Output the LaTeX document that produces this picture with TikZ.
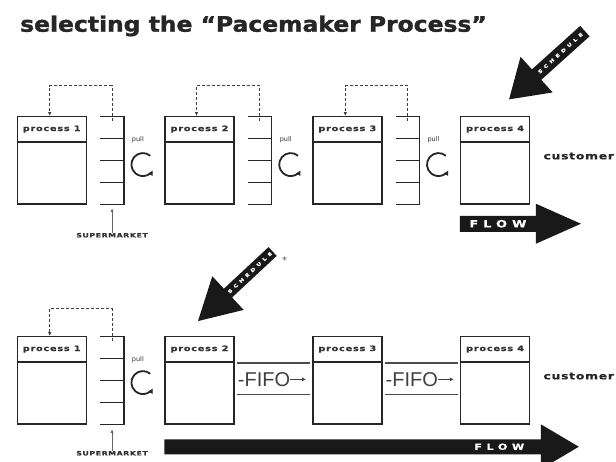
\documentclass[tikz,border=0pt]{standalone}
\usepackage{fontspec}
\setmainfont{DejaVu Sans}
\newfontfamily\widefont[FakeStretch=1.3, FakeBold=0.8]{DejaVu Sans Bold}
\newfontfamily\titlefont[FakeStretch=1.1, FakeBold=1.5]{DejaVu Sans Bold}
\newfontfamily\fifofont{Liberation Sans}
\usetikzlibrary{positioning,arrows.meta,calc}

\tikzset{
  procbox/.style={draw=black!85, line width=1.4pt, minimum width=69pt, minimum height=87.3pt, inner sep=0pt},
  market/.style={minimum width=23.3pt, minimum height=87.3pt, inner sep=0pt},
  rule/.style={line width=1.4pt, black!85},
  lane/.style={line width=1.6pt, black!70},
  boxtitle/.style={font=\widefont\fontsize{7.5}{8}\selectfont\addfontfeature{LetterSpace=10}, text=black!80, inner sep=0pt},
  tag/.style={font=\widefont\fontsize{6}{7}\selectfont\addfontfeature{LetterSpace=10}, text=black!80, inner sep=0pt},
  pulltext/.style={font=\fontsize{6.5}{7}\selectfont, text=black!80, inner sep=0pt},
  custom/.style={font=\widefont\fontsize{9.5}{11}\selectfont\addfontfeature{LetterSpace=8}, text=black!85, inner sep=0pt},
  fifo/.style={font=\fifofont\fontsize{20}{22}\selectfont, text=black!75, inner sep=0pt},
  flowtext/.style={font=\widefont\fontsize{10}{11}\selectfont\addfontfeature{LetterSpace=50}, text=white, inner sep=0pt},
  schedtext/.style={font=\widefont\fontsize{4.5}{5}\selectfont\addfontfeature{LetterSpace=75}, text=white, inner sep=0pt},
  bigarrow/.style={fill=black!90},
  kanban/.style={densely dashed, line width=0.8pt, black!75, -{Latex[length=4pt,width=3.5pt]}},
  smarrow/.style={line width=0.7pt, black!60, -{Latex[length=3.5pt,width=3pt]}},
  pullarrow/.style={line width=1.8pt, black!85, -{Latex[length=5pt,width=5.5pt]}},
  fifoarrow/.style={line width=1pt, black!75, -{Latex[length=4pt,width=4pt]}}
}

\begin{document}
\begin{tikzpicture}[x=1pt, y=-1pt]
    \useasboundingbox (0,0) rectangle (616,461);
    \node[font=\titlefont\fontsize{21.3}{24}\selectfont, text=black!85, inner sep=0pt, anchor=base west] (title) at (20,31.7) {selecting the “Pacemaker Process”};

    % top row: pull everywhere
    \node[procbox] (p1) at (51.7,160.4) {};
    \node[procbox, right=77.4pt of p1] (p2) {};
    \node[procbox, right=77.4pt of p2] (p3) {};
    \node[procbox, right=77.4pt of p3] (p4) {};
    \draw[rule] ([yshift=-26pt]p1.north west) -- ([yshift=-26pt]p1.north east);
    \draw[rule] ([yshift=-26pt]p2.north west) -- ([yshift=-26pt]p2.north east);
    \draw[rule] ([yshift=-26pt]p3.north west) -- ([yshift=-26pt]p3.north east);
    \draw[rule] ([yshift=-26pt]p4.north west) -- ([yshift=-26pt]p4.north east);
    \node[boxtitle] (p1t) at ([yshift=-13pt]p1.north) {process 1};
    \node[boxtitle] (p2t) at ([yshift=-13pt]p2.north) {process 2};
    \node[boxtitle] (p3t) at ([yshift=-13pt]p3.north) {process 3};
    \node[boxtitle] (p4t) at ([yshift=-13pt]p4.north) {process 4};

    \node[market, right=13.3pt of p1] (s1) {};
    \node[market, right=13.3pt of p2] (s2) {};
    \node[market, right=13.3pt of p3] (s3) {};
    \draw[rule] (s1.north west) -- (s1.north east) -- (s1.south east) -- (s1.south west);
    \draw[rule] (s2.north west) -- (s2.north east) -- (s2.south east) -- (s2.south west);
    \draw[rule] (s3.north west) -- (s3.north east) -- (s3.south east) -- (s3.south west);
    \foreach \t in {.25,.5,.75} {
        \draw[rule] ($(s1.north west)!\t!(s1.south west)$) -- ($(s1.north east)!\t!(s1.south east)$);
        \draw[rule] ($(s2.north west)!\t!(s2.south west)$) -- ($(s2.north east)!\t!(s2.south east)$);
        \draw[rule] ($(s3.north west)!\t!(s3.south west)$) -- ($(s3.north east)!\t!(s3.south east)$);
    }
    \draw[kanban] ([yshift=-4pt]s1.north) -- ++(0,-35) -| ([xshift=-2pt]p1.north);
    \draw[kanban] ([yshift=-4pt]s2.north) -- ++(0,-35) -| ([xshift=-3pt]p2.north);
    \draw[kanban] ([yshift=-4pt]s3.north) -- ++(0,-35) -| ([xshift=-2pt]p3.north);

    \node[pulltext] (u1) at ([xshift=14pt,yshift=-23pt]s1.north east) {pull};
    \node[pulltext] (u2) at ([xshift=14pt,yshift=-23pt]s2.north east) {pull};
    \node[pulltext] (u3) at ([xshift=14pt,yshift=-23pt]s3.north east) {pull};
    \coordinate (c1) at ([xshift=19pt,yshift=-48pt]s1.north east);
    \coordinate (c2) at ([xshift=19pt,yshift=-48pt]s2.north east);
    \coordinate (c3) at ([xshift=19pt,yshift=-48pt]s3.north east);
    \draw[pullarrow] ($(c1)+(-50:11.5)$) arc[start angle=-50, end angle=-330, radius=11.5];
    \draw[pullarrow] ($(c2)+(-50:11.5)$) arc[start angle=-50, end angle=-330, radius=11.5];
    \draw[pullarrow] ($(c3)+(-50:11.5)$) arc[start angle=-50, end angle=-330, radius=11.5];

    \node[tag] (sm1) at ([yshift=-31pt]s1.south) {SUPERMARKET};
    \draw[smarrow] (sm1.north) -- ([yshift=-4pt]s1.south);
    \node[custom, anchor=west] (cu1) at ([xshift=13pt,yshift=-40pt]p4.north east) {customer};

    \begin{scope}[shift={([xshift=14pt,yshift=16.7pt]p4.north)}, rotate=42]
        \fill[bigarrow] (0,0) -- (37,-24) -- (37,-7) -- (102,-7) -- (102,7) -- (37,7) -- (37,24) -- cycle;
        \node[schedtext, rotate=42] (sch1) at (69,0) {SCHEDULE};
    \end{scope}

    \fill[bigarrow] ([yshift=-11pt]p4.south west) -- ++(76,0) -- ++(0,-12) -- ++(45,20) -- ++(-45,20) -- ++(0,-12) -- ++(-76,0) -- cycle;
    \node[flowtext] (fl1) at ([xshift=38pt,yshift=-19pt]p4.south west) {FLOW};

    % bottom row: pacemaker is process 2, FIFO downstream
    \node[procbox] (q1) at (51.7,380.4) {};
    \node[procbox, right=77.4pt of q1] (q2) {};
    \node[procbox, right=77.4pt of q2] (q3) {};
    \node[procbox, right=77.4pt of q3] (q4) {};
    \draw[rule] ([yshift=-26pt]q1.north west) -- ([yshift=-26pt]q1.north east);
    \draw[rule] ([yshift=-26pt]q2.north west) -- ([yshift=-26pt]q2.north east);
    \draw[rule] ([yshift=-26pt]q3.north west) -- ([yshift=-26pt]q3.north east);
    \draw[rule] ([yshift=-26pt]q4.north west) -- ([yshift=-26pt]q4.north east);
    \node[boxtitle] (q1t) at ([yshift=-13pt]q1.north) {process 1};
    \node[boxtitle] (q2t) at ([yshift=-13pt]q2.north) {process 2};
    \node[boxtitle] (q3t) at ([yshift=-13pt]q3.north) {process 3};
    \node[boxtitle] (q4t) at ([yshift=-13pt]q4.north) {process 4};

    \node[market, right=13.3pt of q1] (t1) {};
    \draw[rule] (t1.north west) -- (t1.north east) -- (t1.south east) -- (t1.south west);
    \foreach \t in {.25,.5,.75}
        \draw[rule] ($(t1.north west)!\t!(t1.south west)$) -- ($(t1.north east)!\t!(t1.south east)$);
    \draw[kanban] ([yshift=-4pt]t1.north) -- ++(0,-32) -| ([xshift=-2pt]q1.north);
    \node[pulltext] (v1) at ([xshift=14pt,yshift=-23pt]t1.north east) {pull};
    \coordinate (d1) at ([xshift=19pt,yshift=-46pt]t1.north east);
    \draw[pullarrow] ($(d1)+(-50:11.5)$) arc[start angle=-50, end angle=-330, radius=11.5];
    \node[tag] (sm2) at ([yshift=-29pt]t1.south) {SUPERMARKET};
    \draw[smarrow] (sm2.north) -- ([yshift=-5pt]t1.south);

    \draw[lane] ([xshift=2pt,yshift=-26.7pt]q2.north east) -- ([xshift=-2pt,yshift=-26.7pt]q3.north west);
    \draw[lane] ([xshift=2pt,yshift=-58.3pt]q2.north east) -- ([xshift=-2pt,yshift=-58.3pt]q3.north west);
    \draw[lane] ([xshift=2pt,yshift=-26.7pt]q3.north east) -- ([xshift=-2pt,yshift=-26.7pt]q4.north west);
    \draw[lane] ([xshift=2pt,yshift=-58.3pt]q3.north east) -- ([xshift=-2pt,yshift=-58.3pt]q4.north west);
    \node[fifo, anchor=west] (ff1) at ([xshift=3pt,yshift=-43.3pt]q2.north east) {-FIFO};
    \node[fifo, anchor=west] (ff2) at ([xshift=3pt,yshift=-43.3pt]q3.north east) {-FIFO};
    \coordinate (fe1) at ([xshift=-6pt,yshift=-43.3pt]q3.north west);
    \coordinate (fe2) at ([xshift=-6pt,yshift=-43.3pt]q4.north west);
    \draw[fifoarrow] (ff1.east) -- (fe1);
    \draw[fifoarrow] (ff2.east) -- (fe2);
    \node[custom, anchor=west] (cu2) at ([xshift=13pt,yshift=-40pt]q4.north east) {customer};

    \begin{scope}[shift={([xshift=-1.5pt,yshift=15pt]q2.north)}, rotate=43]
        \fill[bigarrow] (0,0) -- (41,-23) -- (41,-6) -- (102,-6) -- (102,6) -- (41,6) -- (41,23) -- cycle;
        \node[schedtext, rotate=43] (sch2) at (71,0) {SCHEDULE};
    \end{scope}
    \node[font=\fontsize{9}{10}\selectfont, text=black!75, inner sep=0pt] (ast) at ([xshift=85pt,yshift=76pt]q2.north) {*};

    \fill[bigarrow] ([yshift=-14.5pt]q2.south west) -- ++(376.5,0) -- ++(0,-15) -- ++(38,22.5) -- ++(-38,22.5) -- ++(0,-15) -- ++(-376.5,0) -- cycle;
    \node[flowtext, font=\widefont\fontsize{8.5}{10}\selectfont\addfontfeature{LetterSpace=55}] (fl2) at ([xshift=335pt,yshift=-22pt]q2.south west) {FLOW};
\end{tikzpicture}
\end{document}
